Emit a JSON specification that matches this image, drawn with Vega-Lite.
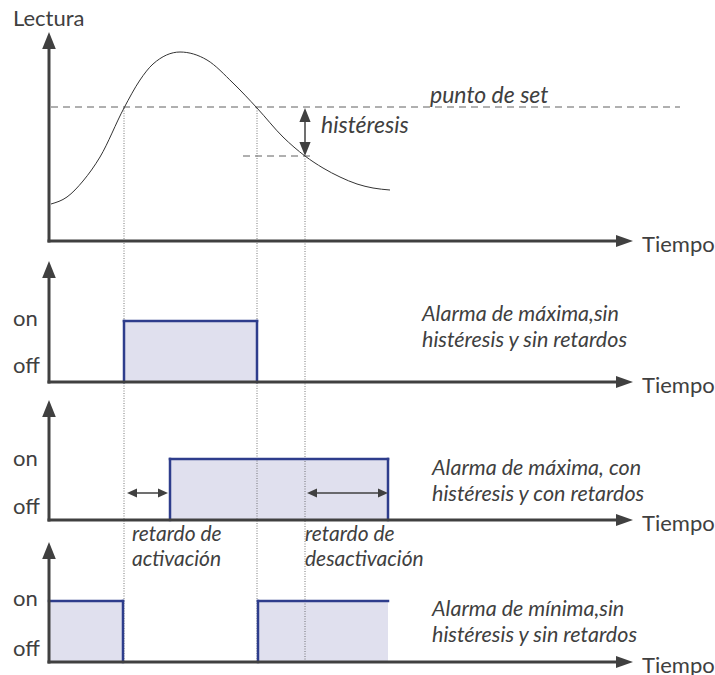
{
  "$schema": "https://vega.github.io/schema/vega-lite/v6.json",
  "width": 715,
  "height": 675,
  "padding": 0,
  "autosize": "none",
  "config": {"view": {"stroke": null}, "text": {"font": "Lato", "color": "#404040"}},
  "datasets": {
    "curve": [
      {"x": 51, "y": 204}, {"x": 67, "y": 197}, {"x": 83, "y": 181}, {"x": 100, "y": 157},
      {"x": 124, "y": 108}, {"x": 140, "y": 80}, {"x": 153, "y": 64}, {"x": 180, "y": 52},
      {"x": 207, "y": 60}, {"x": 233, "y": 83}, {"x": 257, "y": 108}, {"x": 283, "y": 137},
      {"x": 305, "y": 156}, {"x": 323, "y": 168}, {"x": 340, "y": 177}, {"x": 357, "y": 184},
      {"x": 373, "y": 188}, {"x": 390, "y": 190}
    ],
    "dashed": [
      {"x": 51, "y": 107, "x2": 680, "y2": 107},
      {"x": 243, "y": 156, "x2": 313, "y2": 156}
    ],
    "dotted": [
      {"x": 124, "y": 108, "x2": 124, "y2": 662},
      {"x": 257, "y": 108, "x2": 257, "y2": 662},
      {"x": 305, "y": 156, "x2": 305, "y2": 662}
    ],
    "fills": [
      {"x": 124, "y": 321, "x2": 257, "y2": 382},
      {"x": 170, "y": 459, "x2": 388, "y2": 520},
      {"x": 49, "y": 601, "x2": 123, "y2": 662},
      {"x": 258, "y": 601, "x2": 388, "y2": 662}
    ],
    "outlines": [
      {"x": 124, "y": 321, "x2": 124, "y2": 382},
      {"x": 124, "y": 321, "x2": 257, "y2": 321},
      {"x": 257, "y": 321, "x2": 257, "y2": 382},
      {"x": 170, "y": 459, "x2": 170, "y2": 520},
      {"x": 170, "y": 459, "x2": 388, "y2": 459},
      {"x": 388, "y": 459, "x2": 388, "y2": 520},
      {"x": 49, "y": 601, "x2": 123, "y2": 601},
      {"x": 123, "y": 601, "x2": 123, "y2": 662},
      {"x": 258, "y": 601, "x2": 258, "y2": 662},
      {"x": 258, "y": 601, "x2": 388, "y2": 601}
    ],
    "axes": [
      {"x": 49, "y": 49, "x2": 49, "y2": 242.5},
      {"x": 47.5, "y": 241, "x2": 617, "y2": 241},
      {"x": 49, "y": 277, "x2": 49, "y2": 383.5},
      {"x": 47.5, "y": 382, "x2": 617, "y2": 382},
      {"x": 49, "y": 416, "x2": 49, "y2": 521.5},
      {"x": 47.5, "y": 520, "x2": 617, "y2": 520},
      {"x": 49, "y": 558, "x2": 49, "y2": 663.5},
      {"x": 47.5, "y": 662, "x2": 617, "y2": 662}
    ],
    "shafts": [
      {"x": 305, "y": 115, "x2": 305, "y2": 149},
      {"x": 132, "y": 493, "x2": 163, "y2": 493},
      {"x": 312, "y": 493, "x2": 383, "y2": 493}
    ],
    "upBig": [{"x": 49, "y": 40.5}, {"x": 49, "y": 269.5}, {"x": 49, "y": 408.5}, {"x": 49, "y": 550.5}],
    "rightBig": [{"x": 624.5, "y": 241}, {"x": 624.5, "y": 382}, {"x": 624.5, "y": 520}, {"x": 624.5, "y": 662}],
    "upSmall": [{"x": 305, "y": 115}],
    "downSmall": [{"x": 305, "y": 149}],
    "leftSmall": [{"x": 132, "y": 493}, {"x": 312, "y": 493}],
    "rightSmall": [{"x": 163, "y": 493}, {"x": 383, "y": 493}],
    "plainText": [
      {"x": 13, "y": 26, "label": "Lectura"},
      {"x": 642, "y": 252, "label": "Tiempo"},
      {"x": 642, "y": 393, "label": "Tiempo"},
      {"x": 642, "y": 531, "label": "Tiempo"},
      {"x": 642, "y": 673, "label": "Tiempo"},
      {"x": 13, "y": 326, "label": "on"},
      {"x": 13, "y": 373, "label": "off"},
      {"x": 13, "y": 466, "label": "on"},
      {"x": 13, "y": 514, "label": "off"},
      {"x": 13, "y": 606, "label": "on"},
      {"x": 13, "y": 656, "label": "off"}
    ],
    "italicText": [
      {"x": 430, "y": 103, "label": "punto de set"},
      {"x": 321, "y": 133, "label": "histéresis"}
    ],
    "alarmText": [
      {"x": 422, "y": 321, "label": "Alarma de máxima,sin"},
      {"x": 422, "y": 347, "label": "histéresis y sin retardos"},
      {"x": 432, "y": 475, "label": "Alarma de máxima, con"},
      {"x": 432, "y": 501, "label": "histéresis y con retardos"},
      {"x": 432, "y": 616, "label": "Alarma de mínima,sin"},
      {"x": 432, "y": 642, "label": "histéresis y sin retardos"}
    ],
    "smallItalic": [
      {"x": 132, "y": 541, "label": "retardo de"},
      {"x": 132, "y": 566, "label": "activación"},
      {"x": 305, "y": 541, "label": "retardo de"},
      {"x": 305, "y": 566, "label": "desactivación"}
    ]
  },
  "encoding": {
    "x": {"field": "x", "type": "quantitative", "scale": {"domain": [0, 715], "nice": false, "zero": false}, "axis": null},
    "y": {"field": "y", "type": "quantitative", "scale": {"domain": [0, 675], "nice": false, "zero": false, "reverse": true}, "axis": null}
  },
  "layer": [
    {"data": {"name": "fills"}, "mark": {"type": "rect", "fill": "#e0e0ee", "strokeWidth": 0},
     "encoding": {"x2": {"field": "x2"}, "y2": {"field": "y2"}}},
    {"data": {"name": "dotted"}, "mark": {"type": "rule", "color": "#555555", "strokeWidth": 0.8, "strokeDash": [1, 1.5]},
     "encoding": {"x2": {"field": "x2"}, "y2": {"field": "y2"}}},
    {"data": {"name": "dashed"}, "mark": {"type": "rule", "color": "#606060", "strokeWidth": 1, "strokeDash": [7, 5]},
     "encoding": {"x2": {"field": "x2"}, "y2": {"field": "y2"}}},
    {"data": {"name": "curve"}, "mark": {"type": "line", "color": "#333333", "strokeWidth": 1, "interpolate": "monotone"},
     "encoding": {"order": {"field": "x", "type": "quantitative"}}},
    {"data": {"name": "outlines"}, "mark": {"type": "rule", "color": "#2e3d8c", "strokeWidth": 2.5, "strokeCap": "square"},
     "encoding": {"x2": {"field": "x2"}, "y2": {"field": "y2"}}},
    {"data": {"name": "axes"}, "mark": {"type": "rule", "color": "#404040", "strokeWidth": 3},
     "encoding": {"x2": {"field": "x2"}, "y2": {"field": "y2"}}},
    {"data": {"name": "shafts"}, "mark": {"type": "rule", "color": "#404040", "strokeWidth": 1.5},
     "encoding": {"x2": {"field": "x2"}, "y2": {"field": "y2"}}},
    {"data": {"name": "upBig"}, "mark": {"type": "point", "shape": "M-0.8,1L0,-1L0.8,1Z", "size": 289, "filled": true, "color": "#404040", "opacity": 1, "strokeWidth": 0}},
    {"data": {"name": "rightBig"}, "mark": {"type": "point", "shape": "M-1,-0.7L1,0L-1,0.7Z", "size": 289, "filled": true, "color": "#404040", "opacity": 1, "strokeWidth": 0}},
    {"data": {"name": "upSmall"}, "mark": {"type": "point", "shape": "M-0.8,1L0,-1L0.8,1Z", "size": 196, "filled": true, "color": "#404040", "opacity": 1, "strokeWidth": 0}},
    {"data": {"name": "downSmall"}, "mark": {"type": "point", "shape": "M-0.8,-1L0,1L0.8,-1Z", "size": 196, "filled": true, "color": "#404040", "opacity": 1, "strokeWidth": 0}},
    {"data": {"name": "leftSmall"}, "mark": {"type": "point", "shape": "M1,-0.9L-1,0L1,0.9Z", "size": 100, "filled": true, "color": "#404040", "opacity": 1, "strokeWidth": 0}},
    {"data": {"name": "rightSmall"}, "mark": {"type": "point", "shape": "M-1,-0.9L1,0L-1,0.9Z", "size": 100, "filled": true, "color": "#404040", "opacity": 1, "strokeWidth": 0}},
    {"data": {"name": "plainText"}, "mark": {"type": "text", "align": "left", "baseline": "alphabetic", "fontSize": 22, "font": "Lato", "color": "#404040"},
     "encoding": {"text": {"field": "label"}}},
    {"data": {"name": "italicText"}, "mark": {"type": "text", "align": "left", "baseline": "alphabetic", "fontSize": 23, "fontStyle": "italic", "font": "Lato", "color": "#404040"},
     "encoding": {"text": {"field": "label"}}},
    {"data": {"name": "alarmText"}, "mark": {"type": "text", "align": "left", "baseline": "alphabetic", "fontSize": 21.5, "fontStyle": "italic", "font": "Lato", "color": "#404040"},
     "encoding": {"text": {"field": "label"}}},
    {"data": {"name": "smallItalic"}, "mark": {"type": "text", "align": "left", "baseline": "alphabetic", "fontSize": 21, "fontStyle": "italic", "font": "Lato", "color": "#404040"},
     "encoding": {"text": {"field": "label"}}}
  ]
}
